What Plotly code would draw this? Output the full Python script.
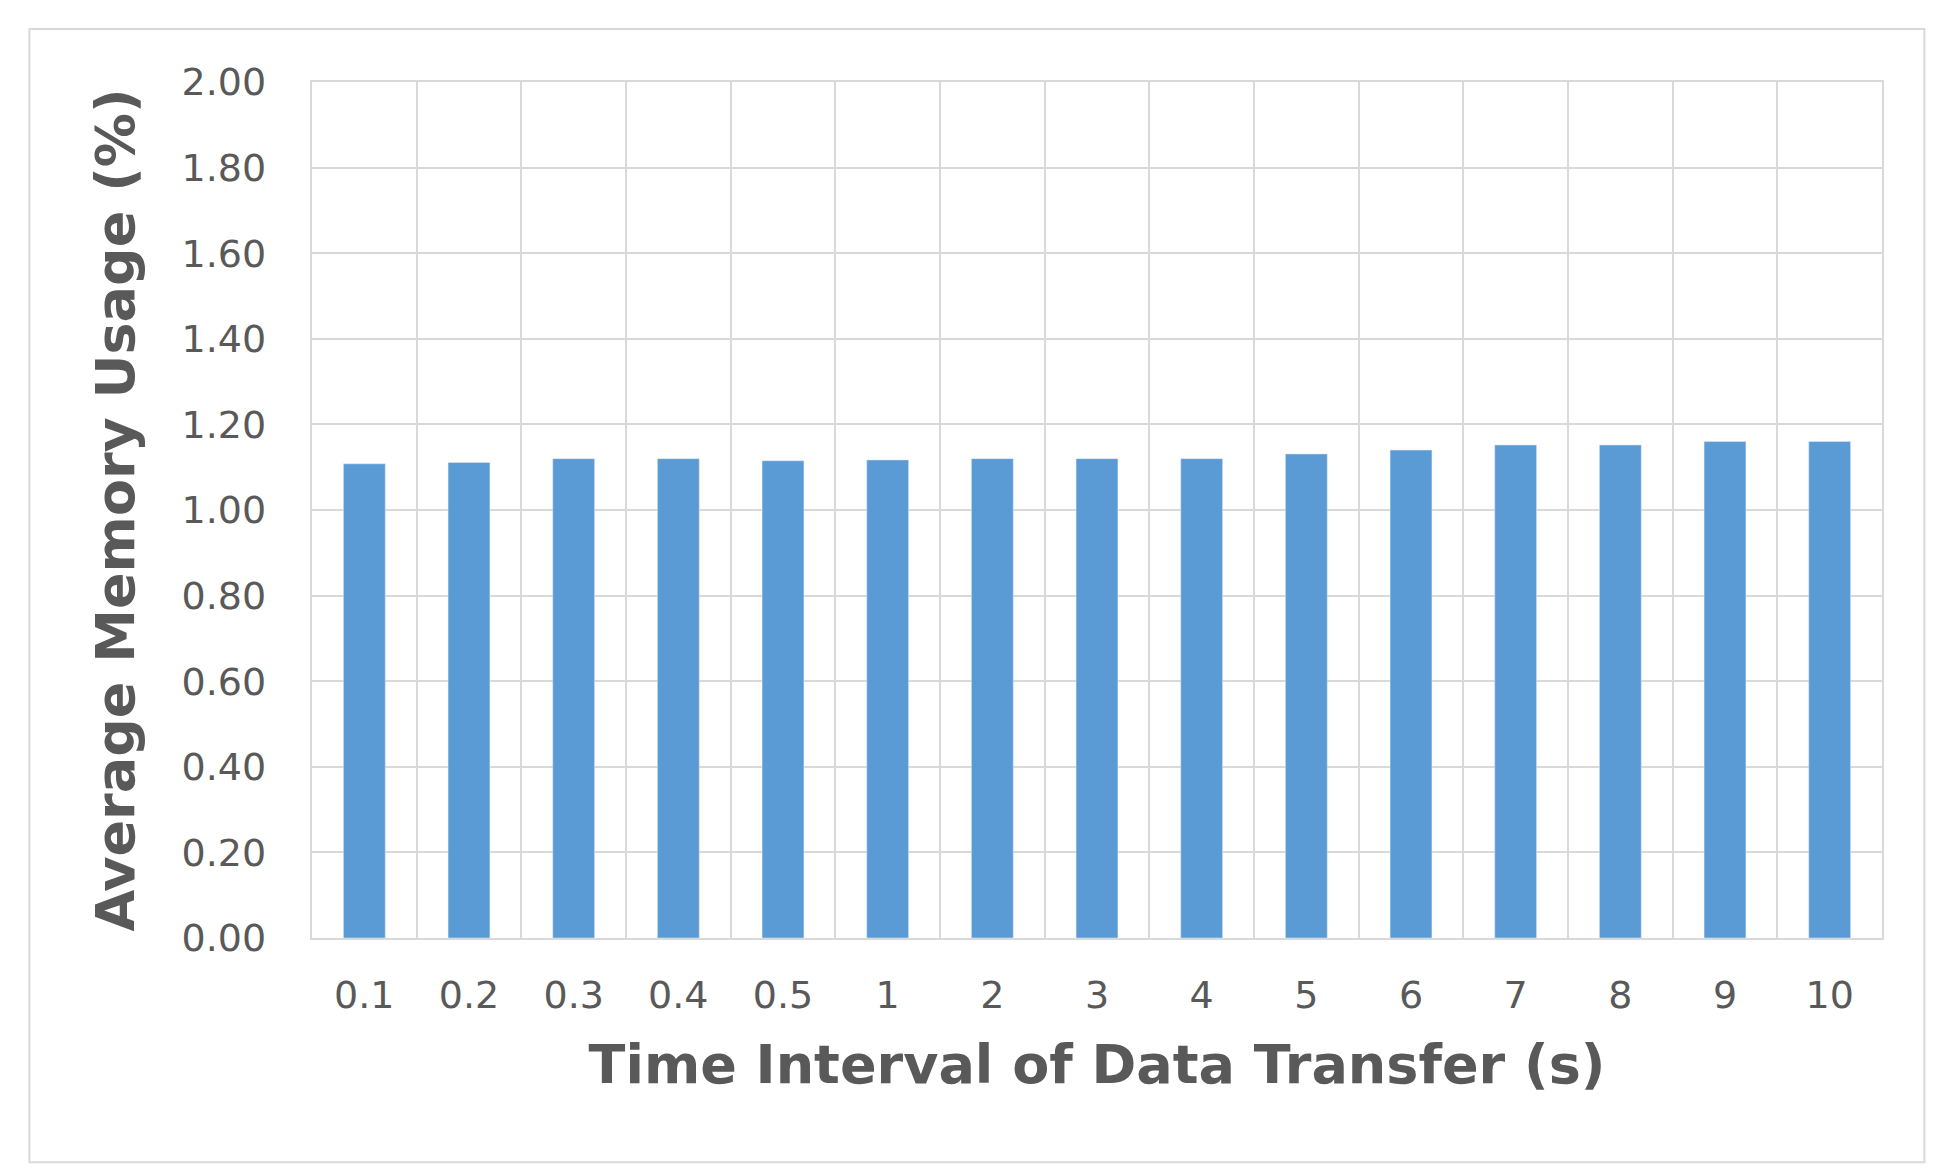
import plotly.graph_objects as go

intervals = ["0.1", "0.2", "0.3", "0.4", "0.5", "1", "2", "3", "4", "5", "6", "7", "8", "9", "10"]
memory = [1.108, 1.111, 1.12, 1.12, 1.115, 1.117, 1.12, 1.12, 1.12, 1.131, 1.14, 1.152, 1.152, 1.16, 1.16]

fig = go.Figure(go.Bar(x=intervals, y=memory, marker_color="#5B9BD5"))

fig.update_layout(
    width=1937, height=1176,
    margin=dict(l=304, r=63, t=74, b=246),
    plot_bgcolor="white", paper_bgcolor="white",
    bargap=0.6, showlegend=False,
    font=dict(family="DejaVu Sans", color="#595959"),
    shapes=[dict(type="rect", xref="paper", yref="paper",
                 x0=-0.18, x1=1.027, y0=-0.262, y1=1.062,
                 line=dict(color="#D9D9D9", width=2))],
)
fig.update_xaxes(
    type="category", tickson="boundaries", showgrid=True, gridcolor="#D9D9D9", gridwidth=2,
    showline=True, linecolor="#D9D9D9", linewidth=2, mirror=True, ticks="",
    tickfont=dict(size=38, color="#595959"), ticklabelstandoff=22,
    title=dict(text="<b>Time Interval of Data Transfer (s)</b>", font=dict(size=54, color="#595959"), standoff=30),
)
fig.update_yaxes(
    range=[0, 2], dtick=0.2, tickformat=".2f", showgrid=True, gridcolor="#D9D9D9", gridwidth=2,
    showline=True, linecolor="#D9D9D9", linewidth=2, mirror=True, zeroline=False,
    tickfont=dict(size=38, color="#595959"), ticksuffix="   ",
    title=dict(text="<b>Average Memory Usage (%)</b>", font=dict(size=54, color="#595959"), standoff=30),
)

fig.write_html("out.html")
